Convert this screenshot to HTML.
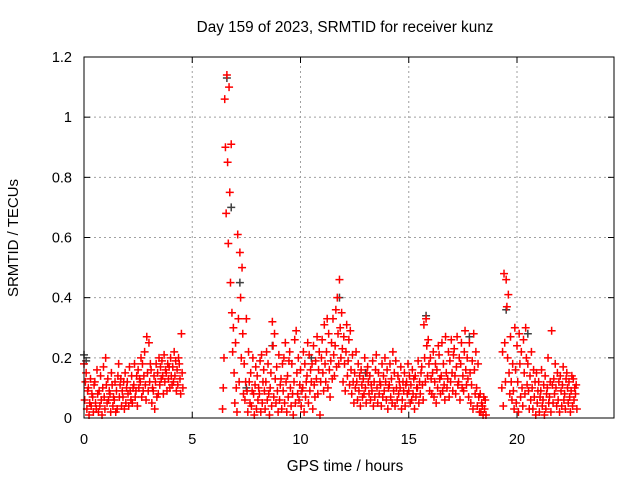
<!DOCTYPE html>
<html><head><meta charset="utf-8"><style>
body{margin:0;background:#fff;}
svg{display:block;font-family:"Liberation Sans",sans-serif;}
</style></head><body>
<svg id="chart" width="640" height="480">
<rect width="640" height="480" fill="#fff"/>
<text x="345" y="32" text-anchor="middle" font-size="15.3">Day 159 of 2023, SRMTID for receiver kunz</text>
<text x="345" y="471" text-anchor="middle" font-size="15.3">GPS time / hours</text>
<text transform="translate(18,238) rotate(-90)" text-anchor="middle" font-size="15">SRMTID / TECUs</text>
<g id="grid"></g><g id="ticks"></g><g id="gray"></g><g id="red"></g>
<rect x="84" y="57" width="530" height="361" fill="none" stroke="#000"/>
</svg>
<script>
const xTicks=[0,5,10,15,20];
const yTicks=[0,0.2,0.4,0.6,0.8,1,1.2];
const yTickLabels=["0","0.2","0.4","0.6","0.8","1","1.2"];
const times=[0,0.1,0.2,0.3,0.4,0.5,0.6,0.7,0.8,0.9,1.0,1.1,1.2,1.3,1.4,1.5,1.6,1.7,1.8,1.9,2.0,2.1,2.2,2.3,2.4,2.5,2.6,2.7,2.8,2.9,3.0,3.1,3.2,3.3,3.4,3.5,3.6,3.7,3.8,3.9,4.0,4.1,4.2,4.3,4.4,4.5,
6.4,6.5,6.6,6.7,6.8,6.9,7.0,7.1,7.2,7.3,7.4,7.5,7.6,7.7,7.8,7.9,8.0,8.1,8.2,8.3,8.4,8.5,8.6,8.7,8.8,8.9,9.0,9.1,9.2,9.3,9.4,9.5,9.6,9.7,9.8,9.9,10.0,10.1,10.2,10.3,10.4,10.5,10.6,10.7,10.8,10.9,11.0,11.1,11.2,11.3,11.4,11.5,11.6,11.7,11.8,11.9,12.0,12.1,12.2,12.3,12.4,12.5,12.6,12.7,12.8,12.9,13.0,13.1,13.2,13.3,13.4,13.5,13.6,13.7,13.8,13.9,14.0,14.1,14.2,14.3,14.4,14.5,14.6,14.7,14.8,14.9,15.0,15.1,15.2,15.3,15.4,15.5,15.6,15.7,15.8,15.9,16.0,16.1,16.2,16.3,16.4,16.5,16.6,16.7,16.8,16.9,17.0,17.1,17.2,17.3,17.4,17.5,17.6,17.7,17.8,17.9,18.0,18.1,18.2,18.3,18.4,18.5,
19.3,19.4,19.5,19.6,19.7,19.8,19.9,20.0,20.1,20.2,20.3,20.4,20.5,20.6,20.7,20.8,20.9,21.0,21.1,21.2,21.3,21.4,21.5,21.6,21.7,21.8,21.9,22.0,22.1,22.2,22.3,22.4,22.5,22.6,22.7];
const redValues=[[.18,.06,.12],[.15,.03,.09],[.10,.01,.05],[.13,.04,.08],[.07,.02,.11],[.12,.05,.03],[.16,.08,.02],[.09,.04,.14],[.06,.01,.10],[.17,.07,.03],[.20,.11,.05],[.13,.06,.09],[.08,.02,.15],[.11,.04,.07],[.06,.12,.02],[.09,.03,.14],[.18,.07,.11],[.13,.04,.09],[.07,.12,.03],[.15,.05,.10],[.12,.08,.04],[.17,.09,.06],[.14,.05,.10],[.11,.18,.07],[.09,.14,.04],[.16,.10,.13],[.12,.20,.07],[.18,.09,.14],[.22,.11,.06],[.27,.15,.09],[.25,.12,.18],[.16,.05,.10],[.09,.14,.03],[.12,.18,.07],[.15,.08,.20],[.11,.17,.13],[.19,.14,.08],[.21,.12,.16],[.15,.09,.18],[.13,.17,.10],[.20,.14,.11],[.17,.12,.22],[.14,.19,.09],[.16,.11,.20],[.18,.13,.08],[.28,.15,.10],
[.03,.10,.20],[1.06,.90,.68],[1.14,.85,.58],[1.10,.75,.45],[.91,.35,.22],[.30,.15,.05],[.25,.10,.02],[.61,.33,.12],[.55,.40,.20],[.50,.28,.08],[.18,.06,.12],[.33,.09,.02],[.22,.12,.05],[.15,.04,.09],[.20,.08,.01],[.11,.17,.03],[.14,.06,.10],[.08,.19,.02],[.21,.05,.12],[.16,.09,.03],[.12,.22,.06],[.18,.08,.01],[.10,.15,.04],[.32,.24,.07],[.28,.13,.05],[.17,.09,.02],[.21,.06,.11],[.13,.03,.18],[.09,.20,.05],[.25,.12,.02],[.14,.07,.19],[.22,.10,.04],[.18,.08,.01],[.12,.26,.05],[.29,.15,.08],[.20,.06,.11],[.16,.04,.09],[.10,.22,.02],[.18,.07,.12],[.14,.25,.05],[.21,.09,.16],[.12,.18,.03],[.24,.11,.07],[.19,.13,.27],[.08,.16,.22],[.01,.12,.20],[.26,.15,.09],[.31,.18,.12],[.22,.33,.10],[.28,.16,.07],[.19,.25,.13],[.33,.21,.14],[.24,.36,.17],[.40,.28,.18],[.46,.30,.20],[.35,.23,.12],[.27,.18,.09],[.22,.31,.14],[.19,.26,.11],[.29,.16,.08],[.21,.12,.05],[.15,.10,.22],[.12,.06,.18],[.09,.14,.04],[.16,.11,.07],[.13,.08,.20],[.10,.05,.15],[.17,.12,.08],[.14,.06,.11],[.09,.19,.04],[.12,.07,.16],[.21,.10,.05],[.15,.08,.12],[.11,.04,.18],[.07,.14,.09],[.20,.12,.06],[.16,.03,.10],[.11,.18,.07],[.13,.05,.22],[.09,.15,.04],[.19,.10,.06],[.14,.08,.12],[.10,.17,.03],[.06,.12,.09],[.15,.04,.11],[.12,.08,.18],[.09,.14,.05],[.11,.06,.16],[.08,.13,.03],[.14,.07,.10],[.10,.19,.05],[.12,.08,.15],[.17,.11,.06],[.31,.20,.12],[.33,.24,.14],[.26,.18,.09],[.20,.13,.08],[.15,.22,.07],[.12,.18,.05],[.16,.10,.24],[.21,.13,.08],[.14,.25,.09],[.18,.11,.06],[.27,.15,.10],[.13,.22,.07],[.19,.12,.26],[.15,.09,.21],[.23,.14,.08],[.17,.27,.11],[.12,.20,.06],[.18,.25,.10],[.14,.09,.22],[.29,.16,.11],[.20,.13,.07],[.25,.15,.05],[.11,.19,.03],[.28,.16,.08],[.22,.10,.04],[.18,.07,.02],[.08,.02,.05],[.04,.01,.07],[.03,.06,.01],
[.10,.22,.04],[.48,.25,.12],[.46,.37,.20],[.41,.15,.08],[.27,.12,.06],[.18,.09,.03],[.30,.16,.05],[.24,.12,.02],[.28,.18,.07],[.22,.10,.04],[.26,.15,.08],[.30,.20,.11],[.18,.09,.03],[.14,.06,.22],[.10,.03,.16],[.07,.12,.01],[.15,.05,.09],[.12,.02,.07],[.09,.16,.04],[.06,.11,.01],[.14,.03,.08],[.10,.20,.05],[.07,.12,.02],[.29,.11,.05],[.13,.08,.18],[.10,.04,.15],[.06,.12,.02],[.14,.09,.04],[.11,.17,.06],[.08,.03,.13],[.15,.10,.05],[.12,.07,.02],[.09,.14,.04],[.13,.06,.10],[.08,.11,.03]];
const grayTimes=[0,0.1,6.6,6.8,7.2,7.5,8.7,10.5,11.8,13.0,15.8,17.8,19.5,20.5];
const grayValues=[.21,.19,1.13,.70,.45,.10,.24,.20,.40,.15,.34,.27,.36,.28];

const X0=84,X1=614,Y0=418,Y1=57,XMAX=24.48,YMAX=1.2;
const sx=v=>X0+v/XMAX*(X1-X0);
const sy=v=>Y0-v/YMAX*(Y0-Y1);
const NS="http://www.w3.org/2000/svg";
function mk(tag,attrs,parent){const e=document.createElementNS(NS,tag);for(const k in attrs)e.setAttribute(k,attrs[k]);parent.appendChild(e);return e;}
const grid=document.getElementById('grid'),ticks=document.getElementById('ticks');
yTicks.forEach((v,i)=>{
  const y=sy(v);
  if(i>0&&i<yTicks.length-1){const g=mk('line',{x1:X0,x2:X1,y1:y,y2:y,stroke:'#a0a0a0','stroke-dasharray':'2,3'},grid);
  
  }
  mk('line',{x1:X0,x2:X0+6,y1:y,y2:y,stroke:'#000'},ticks);
  mk('line',{x1:X1,x2:X1-6,y1:y,y2:y,stroke:'#000'},ticks);
  const t=mk('text',{x:72,y:y+5,'text-anchor':'end','font-size':14.5},ticks);t.textContent=yTickLabels[i];
  
  
});
xTicks.forEach((v,i)=>{
  const x=sx(v);
  if(i>0){const g=mk('line',{x1:x,x2:x,y1:Y0,y2:Y1,stroke:'#a0a0a0','stroke-dasharray':'2,3'},grid);
  
  }
  mk('line',{x1:x,x2:x,y1:Y0,y2:Y0-6,stroke:'#000'},ticks);
  mk('line',{x1:x,x2:x,y1:Y1,y2:Y1+6,stroke:'#000'},ticks);
  const t=mk('text',{x:x,y:444,'text-anchor':'middle','font-size':14.5},ticks);t.textContent=String(v);
  
  
});
function plus(x,y,color,parent,name){
  const p=mk('path',{d:`M${x-4},${y}h8M${x},${y-4}v8`,stroke:color,'stroke-width':1.5,fill:'none'},parent);
  
  
}
const gg=document.getElementById('gray');
grayTimes.forEach((t,i)=>plus(sx(t),sy(grayValues[i]),'#404040',gg,'gray-point'));
const rg=document.getElementById('red');
times.forEach((t,i)=>{redValues[i].forEach((v,j)=>plus(sx(t+j*0.033),sy(v),'#ff0000',rg,'red-point'));});
</script>
</body></html>
